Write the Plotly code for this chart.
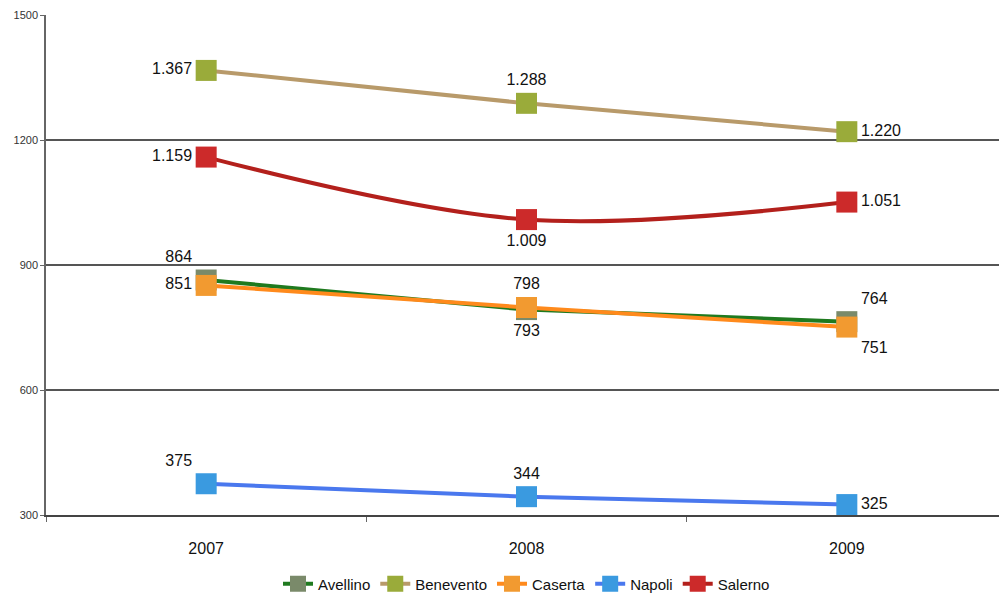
import plotly.graph_objects as go

years = ["2007", "2008", "2009"]
avellino = [864, 793, 764]
benevento = [1367, 1288, 1220]
caserta = [851, 798, 751]
napoli = [375, 344, 325]
salerno = [1159, 1009, 1051]

def fmt(v):
    return f"{v:,}".replace(",", ".")

series = [
    ("Avellino", avellino, "#1f7a1f", "#7a8a6a", "linear", ["top left", "bottom center", "top right"]),
    ("Benevento", benevento, "#b89a6a", "#9aab3a", "linear", ["middle left", "top center", "middle right"]),
    ("Caserta", caserta, "#ff8a1c", "#f29a30", "linear", ["middle left", "top center", "bottom right"]),
    ("Napoli", napoli, "#4a78ee", "#3a9ae0", "linear", ["top left", "top center", "middle right"]),
    ("Salerno", salerno, "#b3201c", "#cc2a2a", "spline", ["middle left", "bottom center", "middle right"]),
]

fig = go.Figure()
for name, vals, lc, mc, shape, pos in series:
    fig.add_trace(go.Scatter(
        x=years, y=vals, name=name, mode="lines+markers+text",
        line=dict(color=lc, width=4, shape=shape),
        marker=dict(symbol="square", size=21, color=mc),
        text=[fmt(v) for v in vals], textposition=pos,
        textfont=dict(family="Liberation Sans, Arial", size=16, color="#111"),
        cliponaxis=False,
    ))

fig.update_layout(
    width=999, height=593,
    margin=dict(l=38, r=0, t=7, b=86),
    paper_bgcolor="white", plot_bgcolor="white",
    font=dict(family="Liberation Sans, Arial", color="#222"),
    showlegend=True,
    legend=dict(orientation="h", x=0.5, xanchor="center", y=-0.105, yanchor="top",
                font=dict(size=15, color="#111"), itemwidth=30, tracegroupgap=0),
    xaxis=dict(type="category", range=[-0.5, 2.5], showgrid=False, automargin=False,
               showline=True, linecolor="#444", linewidth=1.5,
               ticks="outside", tickson="boundaries", ticklen=5, tickcolor="#666",
               ticklabelstandoff=18,
               tickfont=dict(size=16, color="#111")),
    yaxis=dict(range=[300, 1500], tickvals=[300, 600, 900, 1200, 1500], automargin=False,
               showgrid=True, gridcolor="#555", gridwidth=1.5,
               showline=True, linecolor="#666", linewidth=1.5,
               ticks="outside", ticklen=4, tickcolor="#666",
               tickfont=dict(size=11, color="#333"), zeroline=False),
)

fig.write_html("out.html")
